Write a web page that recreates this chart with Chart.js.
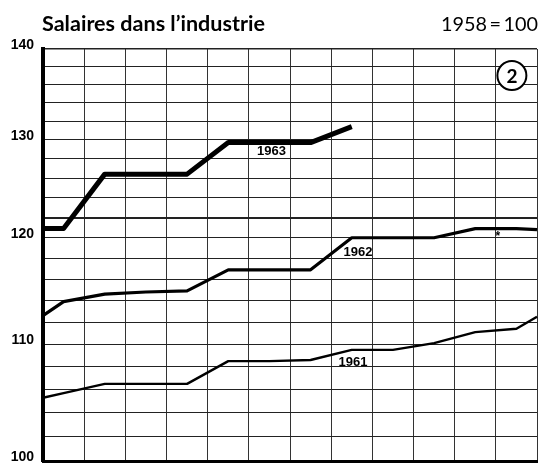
<!DOCTYPE html>
<html>
<head>
<meta charset="utf-8">
<script src="https://cdn.jsdelivr.net/npm/chart.js@4"></script>
<style>
  html, body { margin: 0; padding: 0; background: #fff; }
  canvas { display: block; }
</style>
</head>
<body>
<canvas id="c" width="539" height="465"></canvas>
<script>
// ---- data ----
const monthPos = [0, 0.5, 1.5, 2.5, 3.5, 4.5, 5.5, 6.5, 7.5, 8.5, 9.5, 10.5, 11.5, 12];
const s1961 = [105.3, 105.7, 106.5, 106.5, 106.5, 108.5, 108.5, 108.6, 109.5, 109.5, 110.1, 111.1, 111.4, 112.5];
const s1962 = [112.6, 113.9, 114.6, 114.8, 114.9, 116.9, 116.9, 116.9, 120.0, 120.0, 120.0, 120.9, 120.9, 120.8];
const s1963 = [120.9, 120.9, 126.4, 126.4, 126.4, 129.7, 129.7, 129.7, 131.4];
const seriesNames = ['1961', '1962', '1963'];
const yGridValues = [100,102,104,106,108,110,112,114,116,118,120,122,124,126,128,130,132,134,136,138,140];
const yTickLabels = [100, 110, 120, 130, 140];
const titleText = "Salaires dans l\u2019industrie";
const baseText = "1958\u2009=\u2009100";
const badgeText = "2";

function pts(vals) { return vals.map((v, i) => ({ x: monthPos[i], y: v })); }

const overlay = {
  id: 'overlay',
  afterDraw(chart) {
    const ctx = chart.ctx;
    const xs = chart.scales.x, ys = chart.scales.y;
    ctx.save();
    // title
    ctx.fillStyle = '#000';
    ctx.textBaseline = 'alphabetic';
    ctx.textAlign = 'left';
    let f = "'Lato', 'Open Sans', sans-serif";
    ctx.font = 'bold 19px ' + f;
    let w = ctx.measureText(titleText).width;
    let size = 19 * 223 / w;
    ctx.font = 'bold ' + size.toFixed(2) + 'px ' + f;
    ctx.fillText(titleText, 42, 31);
    // 1958 = 100
    ctx.textAlign = 'right';
    ctx.font = '17px ' + f;
    w = ctx.measureText(baseText).width;
    size = 17 * 97 / w;
    ctx.font = size.toFixed(2) + 'px ' + f;
    ctx.fillText(baseText, 538, 31);

    // year labels
    ctx.textAlign = 'center';
    ctx.textBaseline = 'middle';
    ctx.font = "bold 13px 'Liberation Sans', Arial, sans-serif";
    const labs = [
      { t: seriesNames[2], m: 5.55, v: 128.8 },
      { t: seriesNames[1], m: 7.65, v: 118.6 },
      { t: seriesNames[0], m: 7.53, v: 108.4 }
    ];
    labs.forEach(l => ctx.fillText(l.t, xs.getPixelForValue(l.m), ys.getPixelForValue(l.v)));
    ctx.font = "bold 12px 'Liberation Sans', sans-serif";
    ctx.fillText('*', xs.getPixelForValue(11.05), ys.getPixelForValue(120.1));

    // circled 2
    const cx = xs.getPixelForValue(11.39), cy = ys.getPixelForValue(137.0);
    ctx.beginPath();
    ctx.arc(cx, cy, 14.5, 0, Math.PI * 2);
    ctx.fillStyle = '#fff';
    ctx.fill();
    ctx.lineWidth = 2;
    ctx.strokeStyle = '#000';
    ctx.stroke();
    ctx.fillStyle = '#000';
    ctx.font = "bold 19px 'Lato', 'Open Sans', sans-serif";
    ctx.fillText(badgeText, cx, cy + 1);
    ctx.restore();
  }
};

new Chart(document.getElementById('c'), {
  type: 'line',
  data: {
    datasets: [
      { label: seriesNames[0], data: pts(s1961), borderColor: '#000', borderWidth: 2.4 },
      { label: seriesNames[1], data: pts(s1962), borderColor: '#000', borderWidth: 3.2 },
      { label: seriesNames[2], data: pts(s1963), borderColor: '#000', borderWidth: 5 }
    ]
  },
  options: {
    responsive: false,
    animation: false,
    devicePixelRatio: 1,
    layout: { padding: { left: 0, right: 2, top: 49, bottom: 4 } },
    elements: {
      line: { tension: 0, borderJoinStyle: 'round', borderCapStyle: 'butt', fill: false },
      point: { radius: 0, hoverRadius: 0 }
    },
    datasets: { line: { clip: 6 } },
    plugins: { legend: { display: false }, tooltip: { enabled: false }, title: { display: false } },
    scales: {
      x: {
        type: 'linear', min: 0, max: 12,
        ticks: { display: false, stepSize: 1 },
        grid: { color: '#333', lineWidth: 1, drawTicks: false },
        border: { display: true, color: '#000', width: 3 },
        afterFit(s) { s.height = 0; s.paddingLeft = 0; s.paddingRight = 0; }
      },
      y: {
        type: 'logarithmic', min: 100, max: 140,
        afterBuildTicks(s) { s.ticks = yGridValues.map(v => ({ value: v })); },
        afterFit(s) { s.width = 43; s.paddingTop = 0; s.paddingBottom = 0; },
        ticks: {
          padding: 9,
          labelOffset: -4,
          color: '#000',
          font: { family: "'Liberation Sans', Arial, sans-serif", size: 14, weight: 'bold' },
          callback: (v) => yTickLabels.includes(v) ? String(v) : ''
        },
        grid: {
          color: '#222',
          drawTicks: false,
          lineWidth: (c) => (c.tick && c.tick.value === 122) ? 2 : (c.tick && c.tick.value === 140 ? 1.5 : 1)
        },
        border: { display: true, color: '#000', width: 4 }
      }
    }
  },
  plugins: [overlay]
});
</script>
</body>
</html>
